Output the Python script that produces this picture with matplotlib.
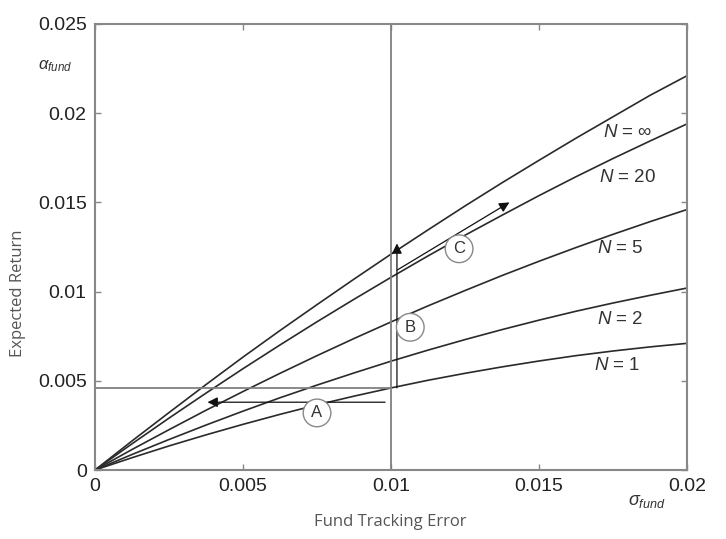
import matplotlib.pyplot as plt

# values (fund tracking error vs expected return)
te = [0, 0.00125, 0.0025, 0.00375, 0.005, 0.00625, 0.0075, 0.00875, 0.01,
      0.01125, 0.0125, 0.01375, 0.015, 0.01625, 0.0175, 0.01875, 0.02]
ret_inf = [0, 0.00163, 0.00322, 0.00479, 0.00633, 0.00782, 0.00927, 0.0107, 0.0121,
           0.01346, 0.0148, 0.0161, 0.01736, 0.0186, 0.0198, 0.0210, 0.0221]
ret_20 = [0, 0.00147, 0.00291, 0.00431, 0.00568, 0.00701, 0.00831, 0.00957, 0.0108,
          0.0120, 0.01316, 0.01428, 0.01538, 0.01644, 0.01746, 0.01844, 0.0194]
ret_5 = [0, 0.00115, 0.00226, 0.00335, 0.0044, 0.00542, 0.00641, 0.00737, 0.0083,
         0.0092, 0.01006, 0.0109, 0.0117, 0.01247, 0.01321, 0.01392, 0.0146]
ret_2 = [0, 0.00087, 0.00171, 0.00252, 0.0033, 0.00405, 0.00476, 0.00544, 0.0061,
         0.00672, 0.00731, 0.00787, 0.0084, 0.0089, 0.00936, 0.00979, 0.0102]
ret_1 = [0, 0.00069, 0.00135, 0.00197, 0.00256, 0.00312, 0.00365, 0.00414, 0.0046,
         0.00503, 0.00542, 0.00578, 0.00611, 0.00641, 0.00667, 0.0069, 0.0071]

series = [ret_inf, ret_20, ret_5, ret_2, ret_1]
curve_labels = ['$N$ = \u221e', '$N$ = 20', '$N$ = 5', '$N$ = 2', '$N$ = 1']
label_xy = [(0.0180, 0.0189), (0.0180, 0.0164), (0.01775, 0.0124),
            (0.01775, 0.00846), (0.01765, 0.00588)]

te_ref = 0.01
ret_ref = 0.0046

plt.rcParams['font.family'] = ['Liberation Sans', 'DejaVu Sans']
plt.rcParams['mathtext.fontset'] = 'custom'
plt.rcParams['mathtext.it'] = 'Liberation Sans:italic'
plt.rcParams['mathtext.rm'] = 'Liberation Sans'

fig = plt.figure(figsize=(7.26, 5.39), dpi=100)
ax = fig.add_axes([0.1309, 0.128, 0.8154, 0.8275])

for ys in series:
    ax.plot(te, ys, color='#2a2a2a', lw=1.2)

for lab, (lx, ly) in zip(curve_labels, label_xy):
    ax.text(lx, ly, lab, fontsize=13.5, color='#333333', ha='center', va='center')

# reference lines at tracking error 0.01
ax.axvline(te_ref, color='#808080', lw=1.3)
ax.plot([0, te_ref], [ret_ref, ret_ref], color='#808080', lw=1.3)

arrow = dict(arrowstyle='-|>', color='#111111', lw=0.9, mutation_scale=15,
             shrinkA=0, shrinkB=0)
# A: move along same return to lower tracking error
ax.annotate('', xy=(0.0038, 0.0038), xytext=(0.0098, 0.0038), arrowprops=arrow)
# B: move up at same tracking error
ax.annotate('', xy=(0.0102, 0.0127), xytext=(0.0102, 0.0046), arrowprops=arrow)
# C: move along the N = 20 curve
ax.annotate('', xy=(0.0140, 0.0150), xytext=(0.0102, 0.0112), arrowprops=arrow)

circ = dict(boxstyle='circle,pad=0.38', fc='white', ec='#888888', lw=1.0)
for letter, cx, cy in [('A', 0.0075, 0.0032), ('B', 0.01065, 0.0080), ('C', 0.0123, 0.0124)]:
    ax.text(cx, cy, letter, fontsize=12, color='#333333', ha='center', va='center', bbox=circ)

ax.set_xlim(0, 0.02)
ax.set_ylim(0, 0.025)
ax.set_xticks([0, 0.005, 0.01, 0.015, 0.02])
ax.set_xticklabels(['0', '0.005', '0.01', '0.015', '0.02'])
ax.set_yticks([0, 0.005, 0.01, 0.015, 0.02, 0.025])
ax.set_yticklabels(['0', '0.005', '0.01', '0.015', '0.02', '0.025'])
ax.tick_params(direction='in', length=4, width=1, colors='#888888', labelcolor='#222222',
               labelsize=14, top=True, right=True, pad=6)
for sp in ax.spines.values():
    sp.set_color('#888888')
    sp.set_linewidth(1.5)

fig.text(0.076, 0.878, r'$\alpha_{fund}$', fontsize=12, color='#333333', ha='center', va='center')
fig.text(0.891, 0.070, r'$\sigma_{fund}$', fontsize=13, color='#333333', ha='center', va='center')

fig.text(0.025, 0.456, 'Expected Return', rotation=90, fontsize=12, color='#555555',
         family=['Open Sans', 'DejaVu Sans'], ha='center', va='center')
fig.text(0.538, 0.032, 'Fund Tracking Error', fontsize=12, color='#555555',
         family=['Open Sans', 'DejaVu Sans'], ha='center', va='center')

fig.savefig('out.png', dpi=100)
